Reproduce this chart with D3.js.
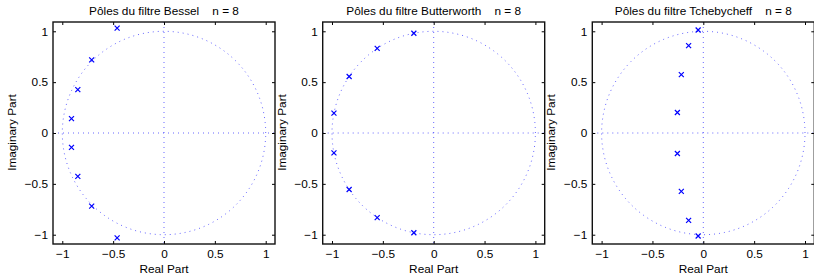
<!DOCTYPE html>
<html><head><meta charset="utf-8">
<script src="https://cdn.jsdelivr.net/npm/d3@7"></script>
<style>
body{margin:0;background:#fff;}
svg{display:block;}
text{font-family:"Liberation Sans",Arial,Helvetica,sans-serif;fill:#000;}
</style></head>
<body><svg id="c" width="814" height="275"></svg>
<script>
const titles = ["Pôles du filtre Bessel    n = 8", "Pôles du filtre Butterworth    n = 8", "Pôles du filtre Tchebycheff    n = 8"];
const besselRe = [-0.9096, -0.8473, -0.7111, -0.4609, -0.4609, -0.7111, -0.8473, -0.9096];
const besselIm = [0.1413, 0.4259, 0.7187, 1.0313, -1.0313, -0.7187, -0.4259, -0.1413];
const butterRe = [-0.9808, -0.8315, -0.5556, -0.1951, -0.1951, -0.5556, -0.8315, -0.9808];
const butterIm = [0.1951, 0.5556, 0.8315, 0.9808, -0.9808, -0.8315, -0.5556, -0.1951];
const chebRe = [-0.2549, -0.2161, -0.1444, -0.0507, -0.0507, -0.1444, -0.2161, -0.2549];
const chebIm = [0.2015, 0.5740, 0.8590, 1.0132, -1.0132, -0.8590, -0.5740, -0.2015];
const tickValues = [-1, -0.5, 0, 0.5, 1];
const tickLabels = ["\u22121", "\u22120.5", "0", "0.5", "1"];
const xLabel = "Real Part";
const yLabel = "Imaginary Part";

const seriesRe = [besselRe, butterRe, chebRe];
const seriesIm = [besselIm, butterIm, chebIm];

const svg = d3.select("#c");
const lefts = [53, 322.7, 592.3];
const plotTop = 22, size = 222;
const lim = 1.0914;
const blue = "#0000ff";
const fs = 11.8;

lefts.forEach((L, i) => {
  const x = d3.scaleLinear().domain([-lim, lim]).range([0, size]);
  const y = d3.scaleLinear().domain([-lim, lim]).range([size, 0]);
  const g = svg.append("g").attr("transform", `translate(${L},${plotTop})`);

  // dotted unit circle
  const circ = d3.range(0, 361, 1).map(a => [Math.cos(a * Math.PI / 180), Math.sin(a * Math.PI / 180)]);
  g.append("path")
    .attr("d", d3.line().x(d => x(d[0])).y(d => y(d[1]))(circ))
    .attr("fill", "none").attr("stroke", blue).attr("stroke-width", 1)
    .attr("stroke-opacity", 0.6).attr("stroke-dasharray", "1 4");
  // dotted axes lines
  g.append("line").attr("x1", x(-lim)).attr("x2", x(lim)).attr("y1", y(0)).attr("y2", y(0))
    .attr("stroke", blue).attr("stroke-opacity", 0.6).attr("stroke-dasharray", "1 4");
  g.append("line").attr("x1", x(0)).attr("x2", x(0)).attr("y1", y(lim)).attr("y2", y(-lim))
    .attr("stroke", blue).attr("stroke-opacity", 0.6).attr("stroke-dasharray", "1 4");

  // axes with inward ticks
  const ax = (gen, tx) => {
    const a = g.append("g").attr("transform", tx).call(gen);
    a.select(".domain").remove();
    a.selectAll(".tick line").attr("stroke", "#000");
    return a;
  };
  const bottom = ax(d3.axisBottom(x).tickValues(tickValues).tickSize(-3).tickPadding(6)
    .tickFormat((d, k) => tickLabels[k]), `translate(0,${size})`);
  bottom.selectAll("text").attr("font-size", fs).attr("font-family", "Liberation Sans, Arial, sans-serif");
  const left = ax(d3.axisLeft(y).tickValues(tickValues).tickSize(-3).tickPadding(5)
    .tickFormat((d, k) => tickLabels[k]), "translate(0,0)");
  left.selectAll("text").attr("font-size", fs).attr("font-family", "Liberation Sans, Arial, sans-serif");
  ax(d3.axisTop(x).tickValues(tickValues).tickSize(-3).tickFormat(""), "translate(0,0)");
  ax(d3.axisRight(y).tickValues(tickValues).tickSize(-3).tickFormat(""), `translate(${size},0)`);

  g.append("rect").attr("x", 0).attr("y", 0).attr("width", size).attr("height", size)
    .attr("fill", "none").attr("stroke", "#111").attr("stroke-width", 1.4);

  // poles
  const pts = seriesRe[i].map((r, k) => [r, seriesIm[i][k]]);
  const s = 2.5;
  g.selectAll("path.pole").data(pts).enter().append("path").attr("class", "pole")
    .attr("d", d => { const cx = x(d[0]), cy = y(d[1]);
      return `M${cx - s},${cy - s}L${cx + s},${cy + s}M${cx - s},${cy + s}L${cx + s},${cy - s}`; })
    .attr("stroke", blue).attr("stroke-width", 1.2).attr("fill", "none");

  g.append("text").attr("x", size / 2).attr("y", -7).attr("text-anchor", "middle")
    .attr("font-size", fs).style("white-space", "pre").text(titles[i]);
  g.append("text").attr("x", size / 2).attr("y", size + 28.5).attr("text-anchor", "middle")
    .attr("font-size", fs).text(xLabel);
  g.append("text").attr("transform", `translate(-37,${size / 2 - 0.5}) rotate(-90)`)
    .attr("text-anchor", "middle").attr("font-size", fs).text(yLabel);
});
</script></body></html>
